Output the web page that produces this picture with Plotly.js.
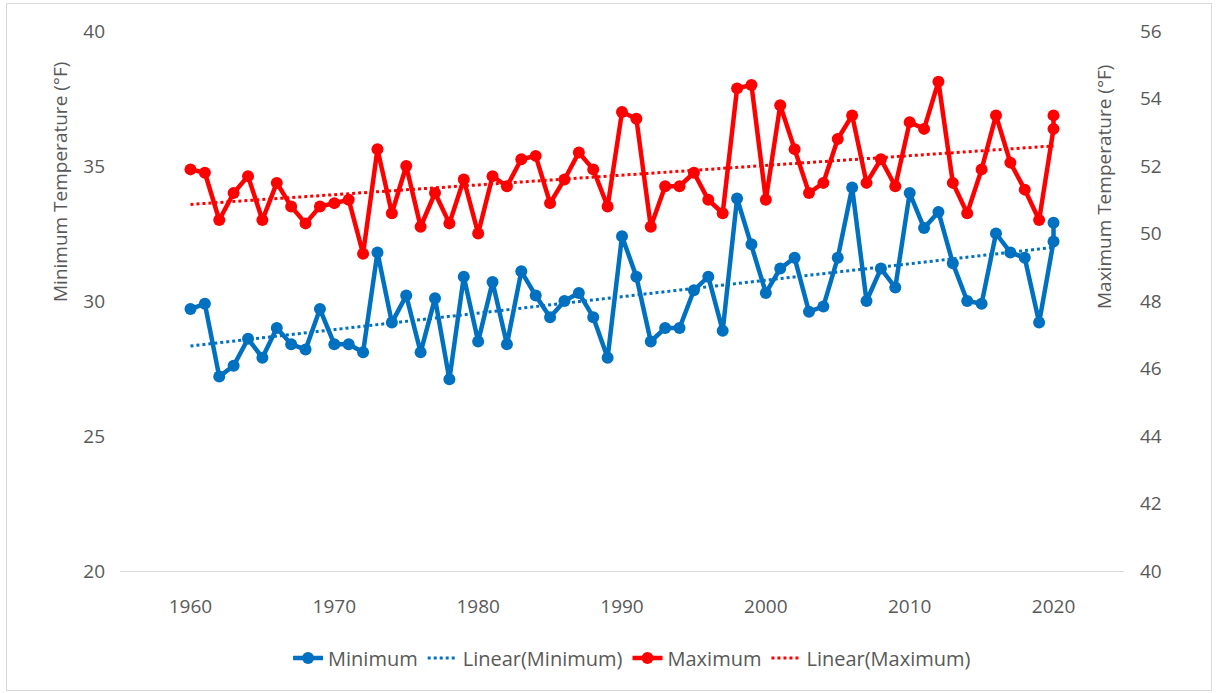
<!DOCTYPE html>
<html>
<head>
<meta charset="utf-8">
<script src="https://cdn.plot.ly/plotly-3.0.1.min.js"></script>
<style>
  html, body { margin: 0; padding: 0; background: #fff; }
  #wrap { position: relative; width: 1217px; height: 693px; }
  #chart { position: absolute; left: 0; top: 0; width: 1217px; height: 693px; }
  #frame { position: absolute; left: 6px; top: 3px; width: 1204px; height: 686px; border: 1px solid #d9d9d9; pointer-events: none; }
</style>
</head>
<body>
<div id="wrap"><div id="chart"></div><div id="frame"></div></div>
<script>
// ---- data ----
const years = [1960,1961,1962,1963,1964,1965,1966,1967,1968,1969,
               1970,1971,1972,1973,1974,1975,1976,1977,1978,1979,
               1980,1981,1982,1983,1984,1985,1986,1987,1988,1989,
               1990,1991,1992,1993,1994,1995,1996,1997,1998,1999,
               2000,2001,2002,2003,2004,2005,2006,2007,2008,2009,
               2010,2011,2012,2013,2014,2015,2016,2017,2018,2019,
               2020,2020];
const minimumTemp = [29.7,29.9,27.2,27.6,28.6,27.9,29.0,28.4,28.2,29.7,
                     28.4,28.4,28.1,31.8,29.2,30.2,28.1,30.1,27.1,30.9,
                     28.5,30.7,28.4,31.1,30.2,29.4,30.0,30.3,29.4,27.9,
                     32.4,30.9,28.5,29.0,29.0,30.4,30.9,28.9,33.8,32.1,
                     30.3,31.2,31.6,29.6,29.8,31.6,34.2,30.0,31.2,30.5,
                     34.0,32.7,33.3,31.4,30.0,29.9,32.5,31.8,31.6,29.2,
                     32.2,32.9];
const maximumTemp = [51.9,51.8,50.4,51.2,51.7,50.4,51.5,50.8,50.3,50.8,
                     50.9,51.0,49.4,52.5,50.6,52.0,50.2,51.2,50.3,51.6,
                     50.0,51.7,51.4,52.2,52.3,50.9,51.6,52.4,51.9,50.8,
                     53.6,53.4,50.2,51.4,51.4,51.8,51.0,50.6,54.3,54.4,
                     51.0,53.8,52.5,51.2,51.5,52.8,53.5,51.5,52.2,51.4,
                     53.3,53.1,54.5,51.5,50.6,51.9,53.5,52.1,51.3,50.4,
                     53.1,53.5];
const xTicks = [1960,1970,1980,1990,2000,2010,2020];
const minTicks = [20,25,30,35,40];
const maxTicks = [40,42,44,46,48,50,52,54,56];

// least-squares trend from the data
function linFit(xs, ys) {
  const n = xs.length;
  let sx=0, sy=0, sxx=0, sxy=0;
  for (let i=0;i<n;i++){ sx+=xs[i]; sy+=ys[i]; sxx+=xs[i]*xs[i]; sxy+=xs[i]*ys[i]; }
  const b = (n*sxy - sx*sy)/(n*sxx - sx*sx);
  const a = (sy - b*sx)/n;
  const x0 = xs[0], x1 = xs[xs.length-1];
  return {x:[x0,x1], y:[a+b*x0, a+b*x1]};
}
const minFit = linFit(years, minimumTemp);
const maxFit = linFit(years, maximumTemp);

const BLUE = '#0070C0', RED = '#FF0000', GREY = '#595959';
const FONT = 'Open Sans, Noto Sans, sans-serif';

const traces = [
  {x: years, y: minimumTemp, name: 'Minimum', type: 'scatter', mode: 'lines+markers',
   line: {color: BLUE, width: 4.5}, marker: {color: BLUE, size: 12}, yaxis: 'y'},
  {x: minFit.x, y: minFit.y, name: 'Linear(Minimum)', type: 'scatter', mode: 'lines',
   line: {color: BLUE, width: 3, dash: 'dot'}, yaxis: 'y'},
  {x: years, y: maximumTemp, name: 'Maximum', type: 'scatter', mode: 'lines+markers',
   line: {color: RED, width: 4.5}, marker: {color: RED, size: 12}, yaxis: 'y2'},
  {x: maxFit.x, y: maxFit.y, name: 'Linear(Maximum)', type: 'scatter', mode: 'lines',
   line: {color: RED, width: 3, dash: 'dot'}, yaxis: 'y2'}
];

const L = 120, R = 93, T = 31, B = 122, W = 1217, H = 693;
const pw = W - L - R;
const layout = {
  width: W, height: H,
  margin: {l: L, r: R, t: T, b: B, pad: 0},
  paper_bgcolor: '#ffffff', plot_bgcolor: '#ffffff',
  font: {family: FONT, color: GREY, size: 19},
  showlegend: true,
  legend: {orientation: 'h', x: 0.51, xanchor: 'center', y: -0.125, yanchor: 'top',
           font: {size: 20, color: GREY, family: FONT}, itemwidth: 30, traceorder: 'normal'},
  xaxis: {range: [1955.1, 2024.9], tickvals: xTicks, ticktext: xTicks.map(String),
          showgrid: false, zeroline: false, showline: true, linecolor: '#d9d9d9', linewidth: 1,
          ticks: '', ticklabelstandoff: 18, tickfont: {size: 19, color: GREY}},
  yaxis: {range: [20, 40], tickvals: minTicks, showgrid: false, zeroline: false, showline: false,
          ticks: '', ticklabelstandoff: 14, tickfont: {size: 19, color: GREY}},
  yaxis2: {range: [40, 56], tickvals: maxTicks, overlaying: 'y', side: 'right',
           showgrid: false, zeroline: false, showline: false,
           ticks: '', ticklabelstandoff: 15, tickfont: {size: 19, color: GREY}},
  annotations: [
    {text: 'Minimum Temperature (°F)', xref: 'paper', yref: 'paper',
     x: (60 - L)/pw, y: 1 - (182 - T)/(H - T - B), textangle: -90, showarrow: false,
     xanchor: 'center', yanchor: 'middle', font: {size: 19, color: GREY, family: FONT}},
    {text: 'Maximum Temperature (°F)', xref: 'paper', yref: 'paper',
     x: (1104 - L)/pw, y: 1 - (187 - T)/(H - T - B), textangle: -90, showarrow: false,
     xanchor: 'center', yanchor: 'middle', font: {size: 19, color: GREY, family: FONT}}
  ]
};

Plotly.newPlot('chart', traces, layout, {displayModeBar: false, staticPlot: true});
</script>
</body>
</html>
